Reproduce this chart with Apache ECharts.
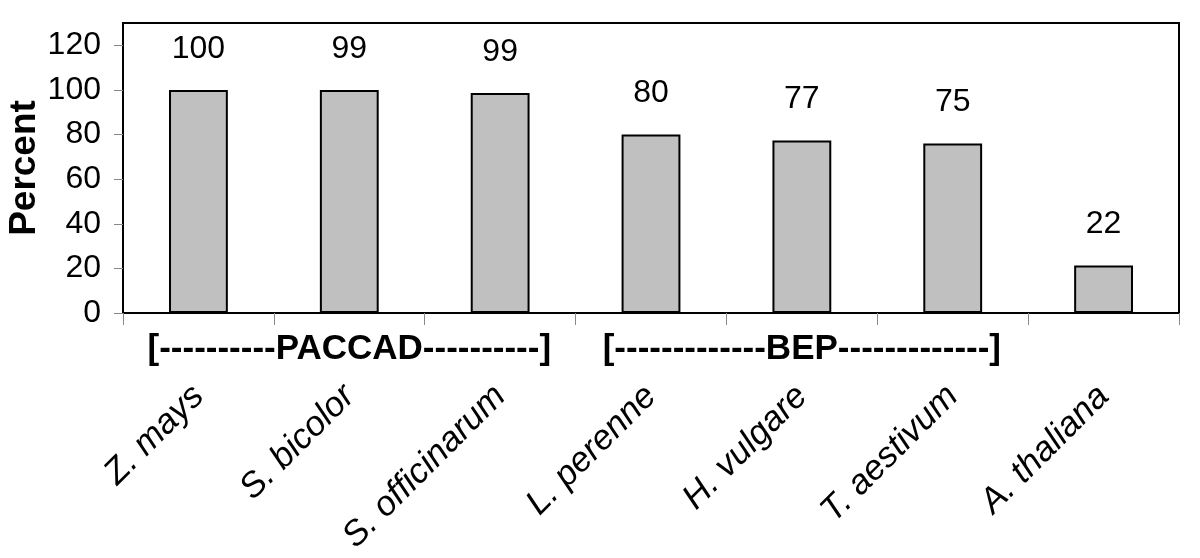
<!DOCTYPE html>
<html>
<head>
<meta charset="utf-8">
<script src="https://cdn.jsdelivr.net/npm/echarts@6/dist/echarts.min.js"></script>
<style>
html,body{margin:0;padding:0;background:#fff;}
#chart{width:1200px;height:558px;}
</style>
</head>
<body>
<div id="chart"></div>
<script>
const categories = ['Z. mays', 'S. bicolor', 'S. officinarum', 'L. perenne', 'H. vulgare', 'T. aestivum', 'A. thaliana'];
const values = [100, 100, 98.6, 80, 77.3, 76, 21.3];
const valueLabels = ['100', '99', '99', '80', '77', '75', '22'];
const groupLabels = ['', '[----------PACCAD----------]', '', '', '[-------------BEP-------------]', '', ''];
const yTicks = [0, 20, 40, 60, 80, 100, 120];

const numFont = "'Liberation Sans', Arial, sans-serif";
const sans = "'Liberation Sans', Arial, sans-serif";

const chart = echarts.init(document.getElementById('chart'), null, {renderer: 'canvas'});
chart.setOption({
  animation: false,
  backgroundColor: '#fff',
  grid: {left: 123, right: 21, top: 23, bottom: 245, outerBoundsMode: 'none', containLabel: false,
         show: true, borderColor: '#000', borderWidth: 2, backgroundColor: 'transparent'},
  xAxis: [{
    type: 'category',
    data: categories,
    position: 'bottom',
    axisLine: {show: true, lineStyle: {color: '#000', width: 2}},
    axisTick: {show: true, length: 12, lineStyle: {color: '#888', width: 1}},
    axisLabel: {interval: 0, rotate: 45, margin: 78, verticalAlign: 'middle', fontFamily: sans, fontStyle: 'italic', fontSize: 35, color: '#000'}
  }, {
    type: 'category',
    data: groupLabels,
    position: 'bottom',
    gridIndex: 0,
    axisLine: {show: false},
    axisTick: {show: false},
    axisLabel: {interval: 0, margin: 19, fontFamily: sans, fontWeight: 'bold', fontSize: 35, color: '#000'}
  }],
  yAxis: {
    type: 'value',
    min: 0, max: 130, interval: 20,
    name: 'Percent',
    nameLocation: 'middle',
    nameRotate: 90,
    nameGap: 80,
    nameMoveOverlap: false,
    nameTextStyle: {fontFamily: sans, fontWeight: 'bold', fontSize: 37, color: '#000'},
    splitLine: {show: false},
    axisLine: {show: true, lineStyle: {color: '#000', width: 2}},
    axisTick: {show: true, length: 9, customValues: yTicks, lineStyle: {color: '#888', width: 1}},
    axisLabel: {customValues: yTicks, margin: 22, fontFamily: numFont, fontSize: 32, color: '#000'}
  },
  series: [{
    type: 'bar',
    xAxisIndex: 0,
    data: values,
    barWidth: '39%',
    itemStyle: {color: '#c0c0c0', borderColor: '#000', borderWidth: 2},
    label: {
      show: true, position: 'top', distance: 25,
      fontFamily: numFont, fontSize: 32, color: '#000',
      formatter: p => valueLabels[p.dataIndex]
    }
  }]
});
</script>
</body>
</html>
